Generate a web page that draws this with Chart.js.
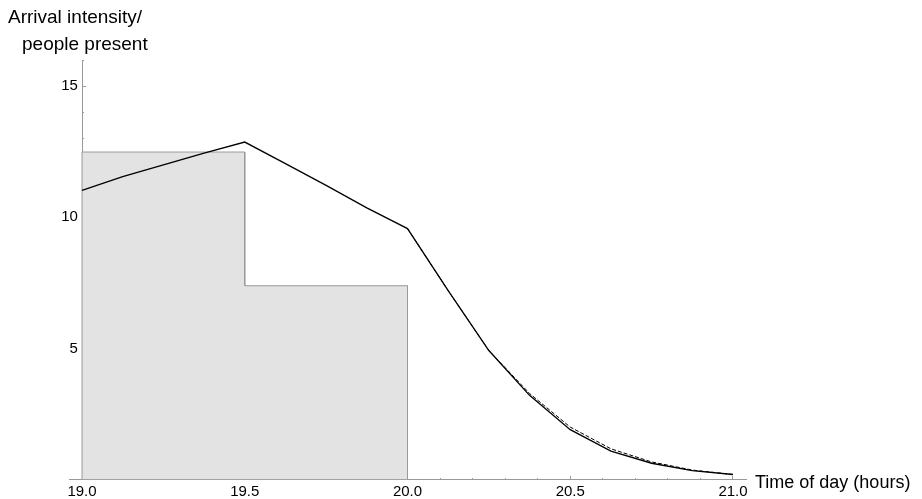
<!DOCTYPE html>
<html>
<head>
<meta charset="utf-8">
<script src="https://cdn.jsdelivr.net/npm/chart.js@4/dist/chart.umd.min.js"></script>
<style>
  html, body { margin: 0; padding: 0; background: #ffffff; }
  #wrap { width: 922px; height: 499px; position: relative; }
</style>
</head>
<body>
<div id="wrap"><canvas id="c" width="922" height="499"></canvas></div>
<script>
// Observed arrivals per half-hour bin
const binEdges = [19.0, 19.5, 20.0];
const binHeights = [12.49, 7.39];

// Time grid (hours) and number of people present
const times = [19.0, 19.125, 19.25, 19.375, 19.5, 19.625, 19.75, 19.875, 20.0,
               20.125, 20.25, 20.375, 20.5, 20.625, 20.75, 20.875, 21.0];
const presentValues = [11.03, 11.55, 12.0, 12.45, 12.87, 12.05, 11.22, 10.36, 9.57,
                       7.2, 4.92, 3.21, 1.90, 1.08, 0.62, 0.34, 0.19];

// Approximate tail after arrivals stop
const tailTimes = [20.0, 20.125, 20.25, 20.375, 20.5, 20.625, 20.75, 20.875, 21.0];
const tailValues = [9.57, 7.2, 4.92, 3.28, 2.0, 1.17, 0.67, 0.36, 0.19];

// Axis ticks
const xMajorTicks = [19.0, 19.5, 20.0, 20.5, 21.0];
const xMinorTicks = [19.1, 19.2, 19.3, 19.4, 19.6, 19.7, 19.8, 19.9,
                     20.1, 20.2, 20.3, 20.4, 20.6, 20.7, 20.8, 20.9];
const yMajorTicks = [5, 10, 15];
const yMinorTicks = [1, 2, 3, 4, 6, 7, 8, 9, 11, 12, 13, 14, 16];

const xTitle = 'Time of day (hours)';
const yTitleLines = ['Arrival intensity/', 'people present'];

const FONT = '"Liberation Sans", Arial, Helvetica, sans-serif';
const AXIS_GRAY = '#999999';

// Histogram outline as a step polygon: up the first edge, across each bin, down the last edge
function histogramOutline(edges, heights) {
  const pts = [{ x: edges[0], y: 0 }];
  heights.forEach((h, i) => {
    pts.push({ x: edges[i], y: h });
    pts.push({ x: edges[i + 1], y: h });
  });
  pts.push({ x: edges[edges.length - 1], y: 0 });
  return pts;
}

const setTicks = (list) => (scale) => { scale.ticks = list.map(v => ({ value: v })); };

const axisTitles = {
  id: 'axisTitles',
  afterDraw(chart) {
    const { ctx } = chart;
    const xs = chart.scales.x;
    const ys = chart.scales.y;
    ctx.save();
    ctx.fillStyle = '#000';
    ctx.textAlign = 'left';
    ctx.textBaseline = 'alphabetic';
    ctx.font = '18px ' + FONT;
    ctx.fillText(xTitle, xs.right + 9, ys.bottom + 8);
    ctx.font = '19px ' + FONT;
    ctx.fillText(yTitleLines[0], 8, 23);
    ctx.fillText(yTitleLines[1], 22, 50);
    ctx.restore();
  }
};

const minorScale = (axis, position, list) => ({
  type: 'linear',
  axis: axis,
  position: position,
  offset: false,
  min: axis === 'x' ? 18.96 : 0,
  max: axis === 'x' ? 21.04 : 16,
  afterBuildTicks: setTicks(list),
  border: { display: false },
  grid: { offset: false, drawOnChartArea: false, drawTicks: true, tickLength: -2, tickColor: AXIS_GRAY, tickWidth: 1 },
  ticks: { display: false }
});

new Chart(document.getElementById('c'), {
  type: 'line',
  data: {
    datasets: [
      {
        data: times.map((t, i) => ({ x: t, y: presentValues[i] })),
        borderColor: '#000000',
        borderWidth: 1.3,
        pointRadius: 0,
        tension: 0,
        fill: false
      },
      {
        data: tailTimes.map((t, i) => ({ x: t, y: tailValues[i] })),
        borderColor: '#000000',
        borderWidth: 1,
        borderDash: [4, 2],
        pointRadius: 0,
        tension: 0,
        fill: false
      },
      {
        data: histogramOutline(binEdges, binHeights),
        backgroundColor: '#e3e3e3',
        borderColor: '#9a9a9a',
        borderWidth: 1,
        pointRadius: 0,
        tension: 0,
        fill: 'origin'
      }
    ]
  },
  options: {
    responsive: false,
    animation: false,
    events: [],
    layout: { padding: { left: 69, right: 176, top: 60, bottom: 19.5 } },
    plugins: { legend: { display: false }, tooltip: { enabled: false } },
    scales: {
      x: {
        type: 'linear',
        position: { y: 0 },
        offset: false,
        min: 18.96,
        max: 21.04,
        afterBuildTicks: setTicks(xMajorTicks),
        border: { display: true, color: AXIS_GRAY, width: 1 },
        grid: { offset: false, drawOnChartArea: false, drawTicks: true, tickLength: -4, tickColor: AXIS_GRAY },
        ticks: {
          color: '#000',
          font: { family: FONT, size: 15 },
          padding: 7,
          maxRotation: 0,
          autoSkip: false,
          callback: (v) => Number(v).toFixed(1)
        }
      },
      y: {
        type: 'linear',
        position: { x: 19 },
        min: 0,
        max: 16,
        afterBuildTicks: setTicks(yMajorTicks),
        border: { display: true, color: AXIS_GRAY, width: 1 },
        grid: { drawOnChartArea: false, drawTicks: true, tickLength: -4, tickColor: AXIS_GRAY },
        ticks: {
          color: '#000',
          font: { family: FONT, size: 15 },
          autoSkip: false,
          // trailing space keeps the value clear of the axis line
          callback: (v) => String(v) + '\u00A0'
        }
      },
      xMinor: minorScale('x', { y: 0 }, xMinorTicks),
      yMinor: minorScale('y', { x: 19 }, yMinorTicks)
    }
  },
  plugins: [axisTitles]
});
</script>
</body>
</html>
